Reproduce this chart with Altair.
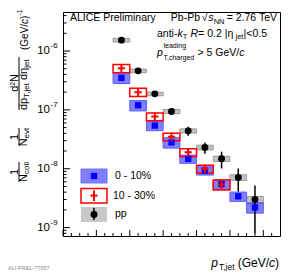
import altair as alt
import pandas as pd

FONT = "Liberation Sans"

# ---------------- data ----------------
pt_centres = [35, 45, 55, 65, 75, 85, 95, 105, 115]
bin_half_width = 5

c010_values = [3.5e-7, 1.2e-7, 5.4e-8, 2.8e-8, 1.47e-8, 9.3e-9, 5.5e-9, 3.4e-9, 2.2e-9]
c010_sys_rel = [0.20, 0.20, 0.18, 0.20, 0.16, 0.16, 0.18, 0.18, 0.20]

c1030_pt = [35, 45, 55, 65, 75, 85, 95]
c1030_values = [5.1e-7, 2.0e-7, 7.7e-8, 3.5e-8, 1.9e-8, 1.0e-8, 5.4e-9]
c1030_stat = [1.5e-8, 8e-9, 4e-9, 2.5e-9, 1.6e-9, 1.0e-9, 7e-10]
c1030_sys_rel = [0.16, 0.16, 0.15, 0.15, 0.15, 0.15, 0.19]

pp_values = [1.53e-6, 4.6e-7, 1.87e-7, 9.4e-8, 4.4e-8, 2.3e-8, 1.48e-8, 7.1e-9, 3.0e-9]
pp_stat = [2e-8, 1e-8, 5e-9, 5e-9, 7.5e-9, 5e-9, 4.7e-9, 3.0e-9, 2.2e-9]
pp_sys_rel = [0.07, 0.07, 0.07, 0.08, 0.08, 0.09, 0.10, 0.11, 0.13]

x_tick_labels = [0, 20, 40, 60, 80, 100, 120]
x_minor_ticks = [5, 10, 15, 25, 30, 35, 45, 50, 55, 65, 70, 75, 85, 90, 95, 105, 110, 115, 125]
y_decades = [1e-9, 1e-8, 1e-7, 1e-6]
y_exponents = ["-9", "-8", "-7", "-6"]
y_minor_ticks = [8e-10, 9e-10,
                 2e-9, 3e-9, 4e-9, 5e-9, 6e-9, 7e-9, 8e-9, 9e-9,
                 2e-8, 3e-8, 4e-8, 5e-8, 6e-8, 7e-8, 8e-8, 9e-8,
                 2e-7, 3e-7, 4e-7, 5e-7, 6e-7, 7e-7, 8e-7, 9e-7,
                 2e-6, 3e-6, 4e-6]
legend_labels = ["0 - 10%", "10 - 30%", "pp"]

X_DOMAIN = [0, 130]
Y_DOMAIN = [7.2e-10, 4.6e-6]
W, H = 217, 224


def series_frame(pts, vals, sys_rel, stat=None):
    rows = []
    for i, (p, v, s) in enumerate(zip(pts, vals, sys_rel)):
        e = stat[i] if stat else 0.0
        rows.append({"pt": p, "lo": p - bin_half_width, "hi": p + bin_half_width,
                     "val": v, "slo": v * (1 - s), "shi": v * (1 + s),
                     "elo": max(v - e, 1e-12), "ehi": v + e})
    return pd.DataFrame(rows)


c010_df = series_frame(pt_centres, c010_values, c010_sys_rel)
c1030_df = series_frame(c1030_pt, c1030_values, c1030_sys_rel, c1030_stat)
pp_df = series_frame(pt_centres, pp_values, pp_sys_rel, pp_stat)

xs = alt.Scale(domain=X_DOMAIN, nice=False, zero=False)
ys = alt.Scale(type="log", domain=Y_DOMAIN, nice=False)

x_axis = alt.Axis(values=x_tick_labels, ticks=False, domain=False, grid=False,
                  labelFontSize=12, labelFont=FONT, labelColor="black",
                  labelPadding=5, labelFlush=False, title=None)

dummy = pd.DataFrame({"d": [0]})


def X(f):
    return alt.X(f, type="quantitative", scale=xs, axis=None)


def Y(f):
    return alt.Y(f, type="quantitative", scale=ys, axis=None)


def txt(s, x, y, size=10.5, italic=False, align="left", angle=0, color="black"):
    return alt.Chart(dummy).mark_text(
        text=s, align=align, baseline="middle", fontSize=size, font=FONT,
        fontStyle="italic" if italic else "normal", color=color, angle=angle
    ).encode(x=alt.value(x), y=alt.value(y))


def prule(x1, x2, y1, y2, color="black", w=1.0):
    return alt.Chart(dummy).mark_rule(color=color, strokeWidth=w).encode(
        x=alt.value(x1), x2=alt.value(x2), y=alt.value(y1), y2=alt.value(y2))


def prect(x1, x2, y1, y2, fill, opacity=1.0, stroke=None, sw=1.0):
    kw = dict(fill=fill, fillOpacity=opacity)
    if stroke:
        kw.update(stroke=stroke, strokeWidth=sw)
    else:
        kw.update(strokeWidth=0)
    return alt.Chart(dummy).mark_rect(**kw).encode(
        x=alt.value(x1), x2=alt.value(x2), y=alt.value(y1), y2=alt.value(y2))


layers = []

# inside ticks (ROOT style)
xmaj = pd.DataFrame({"t": x_tick_labels})
xmin = pd.DataFrame({"t": x_minor_ticks})
layers.append(alt.Chart(xmaj).mark_rule(color="black", strokeWidth=1).encode(
    x=alt.X("t:Q", scale=xs, axis=x_axis), y=alt.value(H), y2=alt.value(H - 6)))
layers.append(alt.Chart(xmin).mark_rule(color="black", strokeWidth=1).encode(
    x=X("t"), y=alt.value(H), y2=alt.value(H - 3)))
ymaj = pd.DataFrame({"t": y_decades, "e": y_exponents})
ymin = pd.DataFrame({"t": y_minor_ticks})
layers.append(alt.Chart(ymaj).mark_rule(color="black", strokeWidth=1).encode(
    y=Y("t"), x=alt.value(0), x2=alt.value(7)))
layers.append(alt.Chart(ymin).mark_rule(color="black", strokeWidth=1).encode(
    y=Y("t"), x=alt.value(0), x2=alt.value(3.5)))
# y tick labels 10^n
layers.append(alt.Chart(ymaj).mark_text(text="10", align="right", baseline="middle",
                                        fontSize=11.5, font=FONT, color="black").encode(
    y=Y("t"), x=alt.value(-13)))
layers.append(alt.Chart(ymaj).mark_text(align="left", baseline="middle", dy=-5,
                                        fontSize=8, font=FONT, color="black").encode(
    y=Y("t"), x=alt.value(-12.5), text="e:N"))

# systematic boxes
layers.append(alt.Chart(pp_df).mark_rect(fill="#c4c4c4", stroke="#9a9a9a", strokeWidth=1).encode(
    x=X("lo"), x2="hi", y=Y("slo"), y2="shi"))
layers.append(alt.Chart(c010_df).mark_rect(fill="#0000ff", fillOpacity=0.5, stroke="#5c5cff",
                                           strokeWidth=1).encode(
    x=X("lo"), x2="hi", y=Y("slo"), y2="shi"))
layers.append(alt.Chart(c1030_df).mark_rect(fill="white", fillOpacity=0, stroke="#ff0000",
                                            strokeWidth=1.5).encode(
    x=X("lo"), x2="hi", y=Y("slo"), y2="shi"))
# statistical error bars
layers.append(alt.Chart(pp_df).mark_rule(color="black", strokeWidth=1.5).encode(
    x=X("pt"), y=Y("elo"), y2="ehi"))
layers.append(alt.Chart(c1030_df).mark_rule(color="#ff0000", strokeWidth=2).encode(
    x=X("pt"), y=Y("elo"), y2="ehi"))
# markers
layers.append(alt.Chart(c010_df).mark_square(size=40, color="#0000ff", opacity=1).encode(
    x=X("pt"), y=Y("val")))
layers.append(alt.Chart(c1030_df).mark_point(shape="M-1,0H1M0,-1.2V1.2", size=52, filled=False,
                                             strokeWidth=2, color="#ff0000", opacity=1).encode(
    x=X("pt"), y=Y("val")))
layers.append(alt.Chart(pp_df).mark_circle(size=48, color="black", opacity=1).encode(
    x=X("pt"), y=Y("val")))

# legend
layers.append(prect(18, 44, 157, 171, "#0000ff", 0.5, "#7070ff", 1))
layers.append(alt.Chart(dummy).mark_square(size=40, color="#0000ff", opacity=1).encode(
    x=alt.value(31), y=alt.value(164)))
layers.append(prect(18, 44, 176.5, 191, "white", 1, "#ff0000", 1.5))
layers.append(prule(31, 31, 178.5, 189, "#ff0000", 2))
layers.append(alt.Chart(dummy).mark_point(shape="M-1,0H1M0,-1.2V1.2", size=52, filled=False,
                                          strokeWidth=2, color="#ff0000", opacity=1).encode(
    x=alt.value(31), y=alt.value(183.5)))
layers.append(prect(18, 44, 195, 210, "#c8c8c8", 1))
layers.append(prule(31, 31, 196, 208, "black", 1.5))
layers.append(alt.Chart(dummy).mark_circle(size=48, color="black", opacity=1).encode(
    x=alt.value(31), y=alt.value(202.5)))
layers.append(txt(legend_labels[0], 52, 164))
layers.append(txt(legend_labels[1], 50, 183.5))
layers.append(txt(legend_labels[2], 52, 201.5))

# header texts
layers.append(txt("ALICE Preliminary", 7, 6))
layers.append(txt("Pb-Pb", 137, 6, align="right"))
layers.append(txt("\u221a", 144.5, 6, align="right"))
layers.append(txt("s", 150.5, 6, italic=True, align="right"))
layers.append(txt("NN", 161.5, 9.5, size=7.5, align="right"))
layers.append(txt("= 2.76 TeV", 214, 6, align="right"))

layers.append(txt("anti-", 94, 22))
layers.append(txt("k", 114.4, 22, italic=True))
layers.append(txt("T", 119.7, 25, size=7.5))
layers.append(txt("R", 127.5, 22, italic=True))
layers.append(txt(" = 0.2 |\u03b7", 135.1, 22))
layers.append(txt("jet", 172.5, 25, size=7.5))
layers.append(txt("|<0.5", 180.6, 22))

layers.append(txt("p", 94, 41, italic=True))
layers.append(txt("leading", 100.5, 33.5, size=7))
layers.append(txt("T,charged", 100.5, 45.5, size=7))
layers.append(txt("> 5 GeV/", 134.5, 41))
layers.append(txt("c", 176.2, 41, italic=True))

# x title
layers.append(txt(")", 216, 251, size=12, align="right"))
layers.append(txt("c", 212, 251, size=12, italic=True, align="right"))
layers.append(txt("(GeV/", 206, 251, size=12, align="right"))
layers.append(txt("T,jet", 171.5, 255, size=8.5, align="right"))
layers.append(txt("p", 155, 251, size=12, italic=True, align="right"))

# y title (rotated pieces, reading bottom-to-top)
A = 270
NX, LX, DX, SX = -48, -44, -39.5, -36.5
layers.append(txt("1", NX, 160, size=11, align="center", angle=A))
layers.append(prule(LX, LX, 150, 170, "black", 1))
layers.append(txt("N", DX, 170, size=11, align="left", angle=A))
layers.append(txt("coll", SX, 162, size=8, align="left", angle=A))
layers.append(txt("1", NX, 125, size=11, align="center", angle=A))
layers.append(prule(LX, LX, 116, 134, "black", 1))
layers.append(txt("N", DX, 134.3, size=11, align="left", angle=A))
layers.append(txt("evt", SX, 126.4, size=8, align="left", angle=A))
layers.append(txt("d\u00b2N", NX, 71, size=11, align="center", angle=A))
layers.append(prule(LX, LX, 45, 98, "black", 1))
layers.append(txt("dp", DX, 98, size=11, align="left", angle=A))
layers.append(txt("T,jet", SX, 85.8, size=8, align="left", angle=A))
layers.append(txt("d\u03b7", DX, 68, size=11, align="left", angle=A))
layers.append(txt("jet", SX, 55.8, size=8, align="left", angle=A))
layers.append(txt("(GeV/", DX + 1, 38, size=10, align="left", angle=A))
layers.append(txt("c", DX + 1, 11.9, size=10, italic=True, align="left", angle=A))
layers.append(txt(")", DX + 1, 6.9, size=10, align="left", angle=A))
layers.append(txt("-1", DX - 3.5, 3.6, size=7, align="left", angle=A))

# watermark
layers.append(txt("ALI-PREL-77657", -55, 256, size=5.5, color="#8a8a8a"))

chart = alt.layer(*layers).properties(
    width=W, height=H,
    padding={"left": 55, "top": 4, "right": 3, "bottom": 35},
    autosize=alt.AutoSizeParams(type="none"),
).configure_view(stroke="black", strokeWidth=1)

chart.save("out.html", embed_options={"renderer": "svg", "actions": False})
